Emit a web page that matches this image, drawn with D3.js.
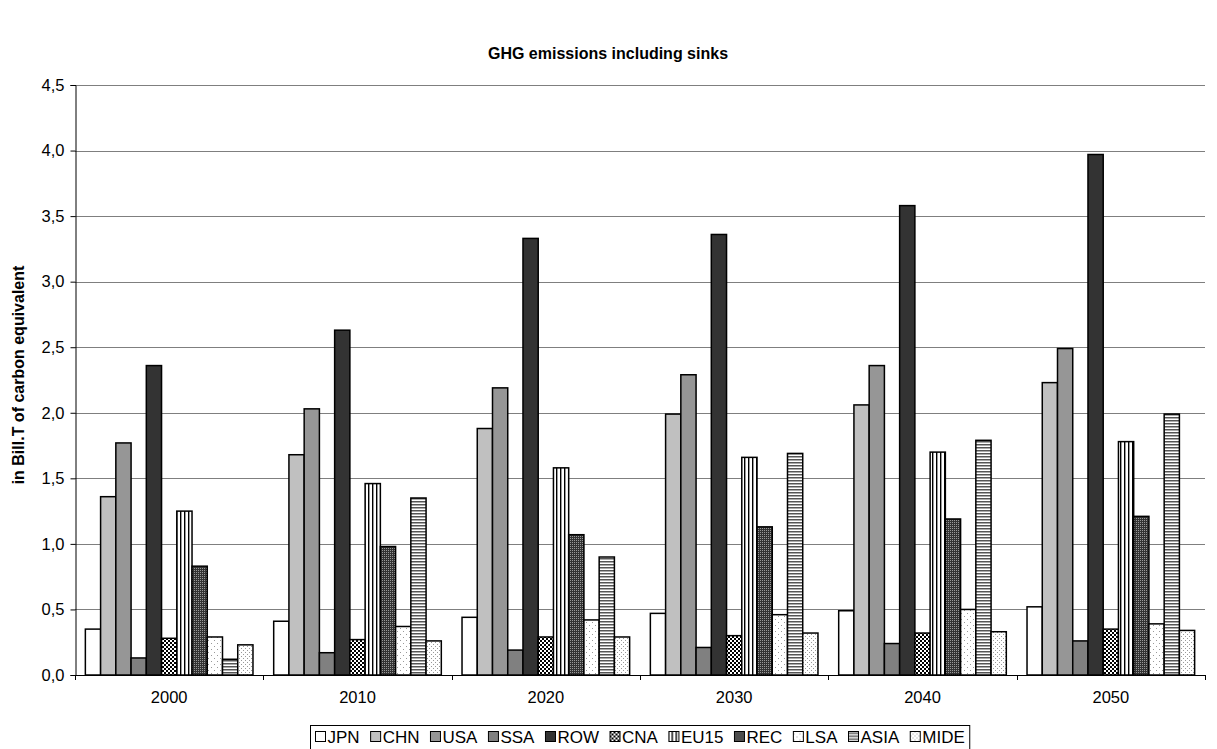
<!DOCTYPE html>
<html><head><meta charset="utf-8">
<script src="https://cdn.jsdelivr.net/npm/d3@7"></script>
<style>body{margin:0;background:#fff}svg{font-family:Arial,"Liberation Sans",sans-serif}</style>
</head><body><svg id="c" width="1217" height="749"></svg>
<script>
const years = ["2000","2010","2020","2030","2040","2050"];
const regions = ["JPN","CHN","USA","SSA","ROW","CNA","EU15","REC","LSA","ASIA","MIDE"];
const JPN  = [0.35,0.41,0.44,0.47,0.49,0.52];
const CHN  = [1.36,1.68,1.88,1.99,2.06,2.23];
const USA  = [1.77,2.03,2.19,2.29,2.36,2.49];
const SSA  = [0.13,0.17,0.19,0.21,0.24,0.26];
const ROW  = [2.36,2.63,3.33,3.36,3.58,3.97];
const CNA  = [0.28,0.27,0.29,0.30,0.32,0.35];
const EU15 = [1.25,1.46,1.58,1.66,1.70,1.78];
const REC  = [0.83,0.98,1.07,1.13,1.19,1.21];
const LSA  = [0.29,0.37,0.42,0.46,0.50,0.39];
const ASIA = [0.12,1.35,0.90,1.69,1.79,1.99];
const MIDE = [0.23,0.26,0.29,0.32,0.33,0.34];
const yTicks = [0,0.5,1,1.5,2,2.5,3,3.5,4,4.5];
const series = {JPN,CHN,USA,SSA,ROW,CNA,EU15,REC,LSA,ASIA,MIDE};

const svg = d3.select("#c");
const defs = svg.append("defs");
function pat(id,w,h,bg,draw){
  const p = defs.append("pattern").attr("id",id).attr("patternUnits","userSpaceOnUse").attr("width",w).attr("height",h);
  p.append("rect").attr("width",w).attr("height",h).attr("fill",bg);
  draw(p);
}
pat("pCNA",4,4,"#fff",p=>{p.append("rect").attr("width",2).attr("height",2).attr("fill","#000");p.append("rect").attr("x",2).attr("y",2).attr("width",2).attr("height",2).attr("fill","#000");});
pat("pEU15",4,4,"#fff",p=>{p.append("rect").attr("x",0).attr("width",1).attr("height",4).attr("fill","#000");p.append("rect").attr("x",1).attr("width",1).attr("height",4).attr("fill","#999");});
pat("pREC",2,2,"#333",p=>{p.append("rect").attr("width",1).attr("height",1).attr("fill","#999");});
pat("pLSA",6,6,"#fff",p=>{p.append("rect").attr("x",1).attr("y",1).attr("width",1).attr("height",1).attr("fill","#999");p.append("rect").attr("x",4).attr("y",4).attr("width",1).attr("height",1).attr("fill","#999");});
pat("pASIA",4,3,"#fff",p=>{p.append("rect").attr("y",0).attr("width",4).attr("height",1).attr("fill","#555");p.append("rect").attr("y",1).attr("width",4).attr("height",1).attr("fill","#aaa");});
pat("pMIDE",4,4,"#fff",p=>{p.append("rect").attr("x",1).attr("y",0).attr("width",1).attr("height",1).attr("fill","#999");p.append("rect").attr("x",3).attr("y",2).attr("width",1).attr("height",1).attr("fill","#999");});

const fills = {JPN:"#fff",CHN:"#c0c0c0",USA:"#969696",SSA:"#808080",ROW:"#333333",CNA:"url(#pCNA)",EU15:"url(#pEU15)",REC:"url(#pREC)",LSA:"url(#pLSA)",ASIA:"url(#pASIA)",MIDE:"url(#pMIDE)"};

const L=75,R=1205,T=85,B=675;
const y = d3.scaleLinear().domain([0,4.5]).range([B,T]);
const x0 = d3.scaleBand().domain(years).range([L,R]).paddingInner(0.11).paddingOuter(0.055);
const x1 = d3.scaleBand().domain(regions).range([0,x0.bandwidth()]);

// gridlines
svg.append("g").selectAll("line").data(yTicks.filter(d=>d>0)).join("line")
  .attr("x1",L).attr("x2",R).attr("y1",d=>Math.round(y(d))+0.5).attr("y2",d=>Math.round(y(d))+0.5)
  .attr("stroke","#7f7f7f").attr("stroke-width",1.2);

// bars
const g = svg.append("g");
years.forEach((yr,i)=>{
  regions.forEach(r=>{
    const v = series[r][i];
    g.append("rect").attr("x",x0(yr)+x1(r)).attr("y",y(v)).attr("width",x1.bandwidth()).attr("height",B-y(v))
     .attr("fill",fills[r]).attr("stroke","#000").attr("stroke-width",1.5);
  });
});

// y axis
const ya = svg.append("g").attr("transform",`translate(${L+0.5},0)`)
  .call(d3.axisLeft(y).tickValues(yTicks).tickSize(5).tickFormat(d=>d3.format(".1f")(d).replace(".",",")));
ya.select(".domain").attr("stroke","#000");
ya.selectAll("text").attr("font-size",16.5).attr("fill","#000").attr("dx",-3);
ya.selectAll("line").attr("stroke","#000");

// x axis
svg.append("line").attr("x1",L).attr("x2",R).attr("y1",B+0.5).attr("y2",B+0.5).attr("stroke","#000");
const bounds = [L].concat(years.slice(1).map(d=>x0(d)-x0.step()*x0.paddingInner()/2)).concat([R]);
svg.append("g").selectAll("line").data(bounds).join("line")
  .attr("x1",d=>Math.round(d)+0.5).attr("x2",d=>Math.round(d)+0.5).attr("y1",B).attr("y2",B+5).attr("stroke","#000");
svg.append("g").selectAll("text").data(years).join("text")
  .attr("x",d=>x0(d)+x0.bandwidth()/2).attr("y",B+28).attr("text-anchor","middle").attr("font-size",16.5).text(d=>d);

// title
svg.append("text").attr("x",608).attr("y",59).attr("text-anchor","middle").attr("font-size",16).attr("font-weight","bold").text("GHG emissions including sinks");
// y label
svg.append("text").attr("transform","translate(24,375) rotate(-90)").attr("text-anchor","middle").attr("font-size",16).attr("font-weight","bold").text("in Bill.T of carbon equivalent");

// legend
const lg = svg.append("g");
let cx = 0;
regions.forEach(r=>{
  const it = lg.append("g");
  it.append("rect").attr("x",cx).attr("y",-10).attr("width",10).attr("height",10).attr("fill",fills[r]).attr("stroke","#000").attr("stroke-width",1);
  const t = it.append("text").attr("x",cx+12).attr("y",1.5).attr("font-size",17).text(r);
  cx += 12 + t.node().getComputedTextLength() + 11;
});
const lw = cx - 11 + 10;
lg.insert("rect",":first-child").attr("x",-5).attr("y",-16).attr("width",lw).attr("height",26).attr("fill","#fff").attr("stroke","#000");
lg.attr("transform",`translate(${Math.round(640 - lw/2 + 5)+0.5},741.5)`);
</script></body></html>
